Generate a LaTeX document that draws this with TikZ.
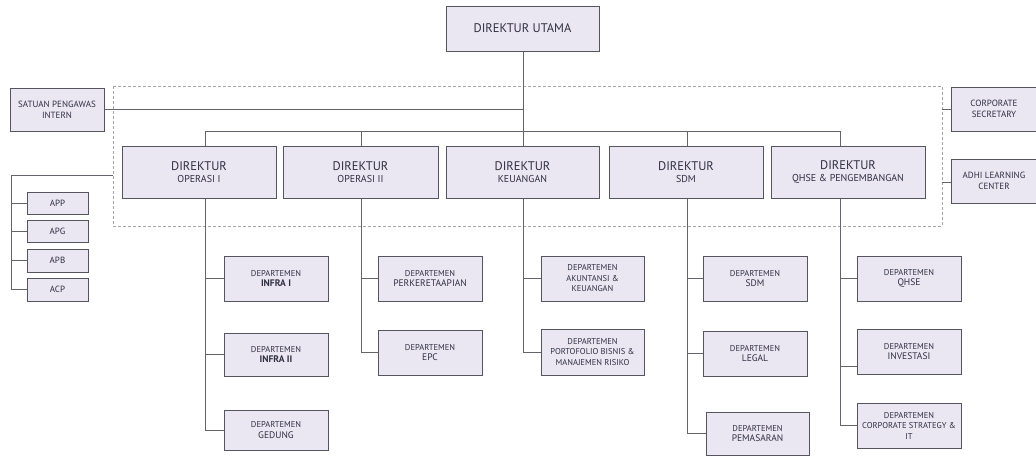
\documentclass[tikz,border=0pt]{standalone}
\usepackage{fontspec}
\setmainfont{PT Sans}
\definecolor{boxfill}{RGB}{234,230,242}
\definecolor{boxline}{RGB}{85,85,95}
\definecolor{txt}{RGB}{48,48,66}
\definecolor{conn}{RGB}{100,100,108}
\newcommand\dirhd[1]{{\fontsize{12.5}{14}\selectfont #1}}
\newcommand\depln[1]{{\fontsize{9.5}{11}\selectfont #1}}
\tikzset{
  box/.style={draw=boxline, fill=boxfill, line width=1pt, inner sep=1pt, align=center, text=txt},
  dir/.style={box, minimum width=154pt, minimum height=52pt, font=\fontsize{10}{12}\selectfont},
  dept/.style={box, minimum width=104pt, minimum height=45pt, font=\fontsize{8.5}{10.5}\selectfont},
  sub/.style={box, minimum width=61pt, minimum height=22pt, font=\fontsize{9}{10}\selectfont},
  side/.style={box, minimum width=94pt, minimum height=43pt, font=\fontsize{9}{11}\selectfont},
  link/.style={draw=conn, line width=0.8pt},
}
\begin{document}
\begin{tikzpicture}[x=1pt,y=-1pt]
\useasboundingbox (0,0) rectangle (1036,456);
% dashed frame
\draw[draw=gray!70, line width=0.6pt, densely dashed] (113,86) rectangle (942,226);
\coordinate (fw) at (113,175);
\coordinate (fcs) at (942,109);
\coordinate (falc) at (942,182);
% top
\node[box, minimum width=153pt, minimum height=45pt, font=\fontsize{12.5}{14}\selectfont] (utama) at (522.5,28.5) {DIREKTUR UTAMA};
\node[side] (spi) at (57,109.5) {SATUAN PENGAWAS\\INTERN};
\node[side, minimum width=86pt, minimum height=44pt] (cs) at (994,109) {CORPORATE\\SECRETARY};
\node[side, minimum width=86pt, minimum height=44pt] (alc) at (994,181) {ADHI LEARNING\\CENTER};
% directors
\node[dir] (d1) at (199,172) {\dirhd{DIREKTUR}\\OPERASI I};
\node[dir, minimum width=155pt] (d2) at (360.5,172) {\dirhd{DIREKTUR}\\OPERASI II};
\node[dir, minimum width=153pt] (d3) at (522.5,172) {\dirhd{DIREKTUR}\\KEUANGAN};
\node[dir] (d4) at (686,172) {\dirhd{DIREKTUR}\\SDM};
\node[dir] (d5) at (848,172) {\dirhd{DIREKTUR}\\QHSE \& PENGEMBANGAN};
% anak perusahaan
\node[sub] (app) at (57.5,203) {APP};
\node[sub] (apg) at (57.5,231) {APG};
\node[sub, minimum height=23pt] (apb) at (57.5,260.5) {APB};
\node[sub, minimum height=23pt] (acp) at (57.5,289.5) {ACP};
% departments
\node[dept] (infra1) at (276,278.5) {DEPARTEMEN\\\depln{\bfseries INFRA I}};
\node[dept, minimum height=43pt] (infra2) at (276,354.5) {DEPARTEMEN\\\depln{\bfseries INFRA II}};
\node[dept, minimum height=40pt] (gedung) at (276,430) {DEPARTEMEN\\\depln{GEDUNG}};
\node[dept] (perk) at (430,278.5) {DEPARTEMEN\\\depln{PERKERETAAPIAN}};
\node[dept] (epc) at (430,352.5) {DEPARTEMEN\\\depln{EPC}};
\node[dept, minimum width=103pt] (akun) at (592.5,278.5) {DEPARTEMEN\\AKUNTANSI \&\\KEUANGAN};
\node[dept, minimum width=103pt, minimum height=46pt] (port) at (592.5,352) {DEPARTEMEN\\PORTOFOLIO BISNIS \&\\MANAJEMEN RISIKO};
\node[dept] (dsdm) at (755,278.5) {DEPARTEMEN\\\depln{SDM}};
\node[dept] (legal) at (755,353.5) {DEPARTEMEN\\\depln{LEGAL}};
\node[dept, minimum width=103pt, minimum height=43pt] (pem) at (757.5,433.5) {DEPARTEMEN\\\depln{PEMASARAN}};
\node[dept] (qhse) at (909,278.5) {DEPARTEMEN\\\depln{QHSE}};
\node[dept] (inv) at (909,351.5) {DEPARTEMEN\\\depln{INVESTASI}};
\node[dept] (cst) at (909,425.5) {DEPARTEMEN\\CORPORATE STRATEGY \&\\IT};
% trunk coordinates
\coordinate (bus) at (523,131);
\coordinate (t1) at (205,131);
\coordinate (t2) at (361,131);
\coordinate (t3) at (523,131);
\coordinate (t4) at (687,131);
\coordinate (t5) at (840,131);
\coordinate (lv) at (11,175);
% connectors
\draw[link] (utama.south -| bus) -- (bus);
\draw[link] (t1) -- (t5);
\draw[link] (spi.east) -- (spi.east -| bus);
\draw[link] (fcs) -- (cs.west |- fcs);
\draw[link] (falc) -- (alc.west |- falc);
\foreach \t/\d in {t1/d1,t2/d2,t3/d3,t4/d4,t5/d5}{
  \draw[link] (\t) -- (\t |- \d.north);
}
% left group
\draw[link] (fw) -- (lv) |- (acp.west);
\draw[link] (lv |- app.west) -- (app.west);
\draw[link] (lv |- apg.west) -- (apg.west);
\draw[link] (lv |- apb.west) -- (apb.west);
% op I
\draw[link] (t1 |- d1.south) |- (gedung.west);
\draw[link] (t1 |- infra1.west) -- (infra1.west);
\draw[link] (t1 |- infra2.west) -- (infra2.west);
% op II
\draw[link] (t2 |- d2.south) |- (epc.west);
\draw[link] (t2 |- perk.west) -- (perk.west);
% keuangan
\draw[link] (t3 |- d3.south) |- (port.west);
\draw[link] (t3 |- akun.west) -- (akun.west);
% sdm
\draw[link] (t4 |- d4.south) |- (pem.west);
\draw[link] (t4 |- dsdm.west) -- (dsdm.west);
\draw[link] (t4 |- legal.west) -- (legal.west);
% qhse
\draw[link] (t5 |- d5.south) |- (cst.west);
\draw[link] (t5 |- qhse.west) -- (qhse.west);
\coordinate (invs) at (840,366);
\draw[link] (invs) -- (inv.west |- invs);
\end{tikzpicture}
\end{document}
